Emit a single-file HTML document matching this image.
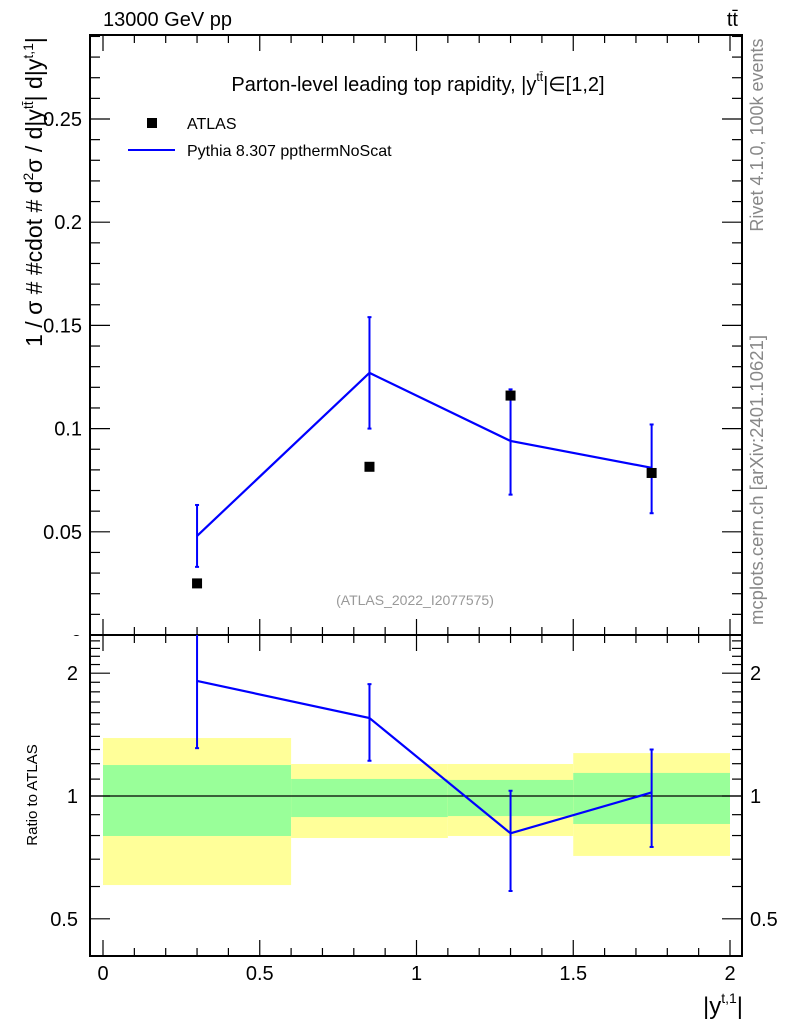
<!DOCTYPE html>
<html><head><meta charset="utf-8">
<style>
html,body{margin:0;padding:0;background:#fff;}
svg{display:block;font-family:"Liberation Sans",sans-serif;}
</style></head>
<body>
<svg id="chart" width="786" height="1024" viewBox="0 0 786 1024" xmlns="http://www.w3.org/2000/svg">
<defs><clipPath id="topclip"><rect x="0" y="0" width="786" height="636"/></clipPath></defs>
<g id="bands"></g>
<g id="grid"></g>
<g id="marks"></g>
<text x="103" y="26" font-size="20">13000 GeV pp</text>
<text x="738" y="26" font-size="20" text-anchor="end">tt̄</text>
<text x="418" y="91" font-size="20" text-anchor="middle">Parton-level leading top rapidity, |y<tspan font-size="12" dy="-10">tt̄</tspan><tspan dy="10">|∈[1,2]</tspan></text>
<rect x="147" y="118" width="10" height="10" fill="#000"/>
<text x="187" y="129" font-size="16">ATLAS</text>
<line x1="128" y1="150" x2="175" y2="150" stroke="#0000ff" stroke-width="2"/>
<text x="187" y="156" font-size="16">Pythia 8.307 ppthermNoScat</text>
<text x="415" y="605" font-size="14" fill="#999" text-anchor="middle">(ATLAS_2022_I2077575)</text>
<text x="82" y="649" font-size="20" text-anchor="end" clip-path="url(#topclip)">0</text>
<text transform="translate(42,192) rotate(-90)" font-size="23" text-anchor="middle">1 / σ # #cdot # d<tspan font-size="14" dy="-9">2</tspan><tspan dy="9">σ / d|y</tspan><tspan font-size="14" dy="-9">tt̄</tspan><tspan dy="9">| d|y</tspan><tspan font-size="14" dy="-9">t,1</tspan><tspan dy="9">|</tspan></text>
<text transform="translate(37,795) rotate(-90)" font-size="15" text-anchor="middle">Ratio to ATLAS</text>
<text x="743" y="1014" font-size="24" text-anchor="end">|y<tspan font-size="14" dy="-11">t,1</tspan><tspan dy="11">|</tspan></text>
<text transform="translate(763,135) rotate(-90)" font-size="18" fill="#888" text-anchor="middle">Rivet 4.1.0,  100k events</text>
<text transform="translate(763,480) rotate(-90)" font-size="18.5" fill="#888" text-anchor="middle">mcplots.cern.ch [arXiv:2401.10621]</text>
</svg>
<script>
const xCenters=[0.3,0.85,1.3,1.75];
const binEdges=[0,0.6,1.1,1.5,2.0];
const atlasValues=[0.025,0.0815,0.116,0.0785];
const mcValues=[0.048,0.127,0.094,0.081];
const mcErrLow=[0.033,0.100,0.068,0.059];
const mcErrHigh=[0.063,0.154,0.119,0.102];
const ratioValues=[1.914,1.553,0.81,1.02];
const ratioErrLow=[1.31,1.22,0.585,0.75];
const ratioErrHigh=[2.6,1.88,1.03,1.30];
const yellowLow=[0.605,0.789,0.798,0.713];
const yellowHigh=[1.387,1.198,1.198,1.274];
const greenLow=[0.798,0.888,0.893,0.854];
const greenHigh=[1.191,1.101,1.095,1.139];
const xTicks=[0,0.5,1,1.5,2];
const xTickLabels=["0","0.5","1","1.5","2"];
const yTicks=[0.05,0.1,0.15,0.2,0.25];
const yTickLabels=["0.05","0.1","0.15","0.2","0.25"];
const rTicks=[0.5,1,2];
const rTickLabels=["0.5","1","2"];

const L=90,R=742,T=35,MB=635,RB=956;
const X=v=>103+v*313.5;
const Y=v=>635-v*2064;
const RY=v=>796-408*Math.log10(v);
const NS="http://www.w3.org/2000/svg";
function mk(parent,tag,attrs){const e=document.createElementNS(NS,tag);for(const k in attrs)e.setAttribute(k,attrs[k]);parent.appendChild(e);return e;}
const bands=document.getElementById('bands'),grid=document.getElementById('grid'),marks=document.getElementById('marks');

for(let i=0;i<4;i++){
 const x0=X(binEdges[i]),x1=X(binEdges[i+1]);
 const y=mk(bands,'rect',{x:x0,y:RY(yellowHigh[i]),width:x1-x0,height:RY(yellowLow[i])-RY(yellowHigh[i]),fill:'#ffff99'});
 
 
 const g=mk(bands,'rect',{x:x0,y:RY(greenHigh[i]),width:x1-x0,height:RY(greenLow[i])-RY(greenHigh[i]),fill:'#99ff99'});
 
 
}
const f1=mk(grid,'rect',{x:L,y:T,width:R-L,height:MB-T,fill:'none',stroke:'#000','stroke-width':2});


const f2=mk(grid,'rect',{x:L,y:MB,width:R-L,height:RB-MB,fill:'none',stroke:'#000','stroke-width':2});


const one=mk(grid,'line',{x1:L,x2:R,y1:RY(1),y2:RY(1),stroke:'#000','stroke-width':1.2});


for(let k=0;k<=20;k++){
 const v=k*0.1,x=X(v),big=k%5==0,len=big?16:8;
 [[T,1],[MB,-1],[MB,1],[RB,-1]].forEach(([y0,d])=>{mk(grid,'line',{x1:x,x2:x,y1:y0,y2:y0+d*len,stroke:'#000','stroke-width':1.2});});
}
xTicks.forEach((v,i)=>{const t=mk(grid,'text',{x:X(v),y:980,'font-size':20,'text-anchor':'middle'});t.textContent=xTickLabels[i];
 
 });
for(let k=0;k<=29;k++){
 const v=k*0.01,y=Y(v);if(y<T)continue;const big=k%5==0,len=big?20:10;
 mk(grid,'line',{x1:L,x2:L+len,y1:y,y2:y,stroke:'#000','stroke-width':1.2});
 mk(grid,'line',{x1:R,x2:R-len,y1:y,y2:y,stroke:'#000','stroke-width':1.2});
}
yTicks.forEach((v,i)=>{const t=mk(grid,'text',{x:82,y:Y(v)+7,'font-size':20,'text-anchor':'end'});t.textContent=yTickLabels[i];
 
 });
const rMinor=[0.4,0.5,0.6,0.7,0.8,0.9,1,1.1,1.2,1.3,1.4,1.5,1.6,1.7,1.8,1.9,2,2.1,2.2,2.3,2.4];
rMinor.forEach(v=>{const y=RY(v);if(y<MB||y>RB)return;const big=rTicks.includes(v),len=big?20:10;
 mk(grid,'line',{x1:L,x2:L+len,y1:y,y2:y,stroke:'#000','stroke-width':1.2});
 mk(grid,'line',{x1:R,x2:R-len,y1:y,y2:y,stroke:'#000','stroke-width':1.2});});
rTicks.forEach((v,i)=>{
 const t=mk(grid,'text',{x:78,y:RY(v)+7,'font-size':20,'text-anchor':'end'});t.textContent=rTickLabels[i];
 
 
 const t2=mk(grid,'text',{x:750,y:RY(v)+7,'font-size':20});t2.textContent=rTickLabels[i];
 
 
});
const blue='#0000ff';
const mcLine=mk(marks,'polyline',{points:xCenters.map((x,i)=>X(x)+','+Y(mcValues[i])).join(' '),fill:'none',stroke:blue,'stroke-width':2.2});


const clipY=v=>Math.max(MB,Math.min(RB,v));
xCenters.forEach((x,i)=>{
 const px=X(x);
 const e=mk(marks,'line',{x1:px,x2:px,y1:Y(mcErrLow[i]),y2:Y(mcErrHigh[i]),stroke:blue,'stroke-width':2});
 
 
 [mcErrLow[i],mcErrHigh[i]].forEach(v=>mk(marks,'line',{x1:px-2,x2:px+2,y1:Y(v),y2:Y(v),stroke:blue,'stroke-width':2}));
 const s=mk(marks,'rect',{x:px-5,y:Y(atlasValues[i])-5,width:10,height:10,fill:'#000'});
 
 
 const re=mk(marks,'line',{x1:px,x2:px,y1:clipY(RY(ratioErrLow[i])),y2:clipY(RY(ratioErrHigh[i])),stroke:blue,'stroke-width':2});
 
 
 [ratioErrLow[i],ratioErrHigh[i]].forEach(v=>{const y=RY(v);if(y>MB&&y<RB)mk(marks,'line',{x1:px-2,x2:px+2,y1:y,y2:y,stroke:blue,'stroke-width':2});});
});
const rLine=mk(marks,'polyline',{points:xCenters.map((x,i)=>X(x)+','+RY(ratioValues[i])).join(' '),fill:'none',stroke:blue,'stroke-width':2.2});


</script>
</body></html>
